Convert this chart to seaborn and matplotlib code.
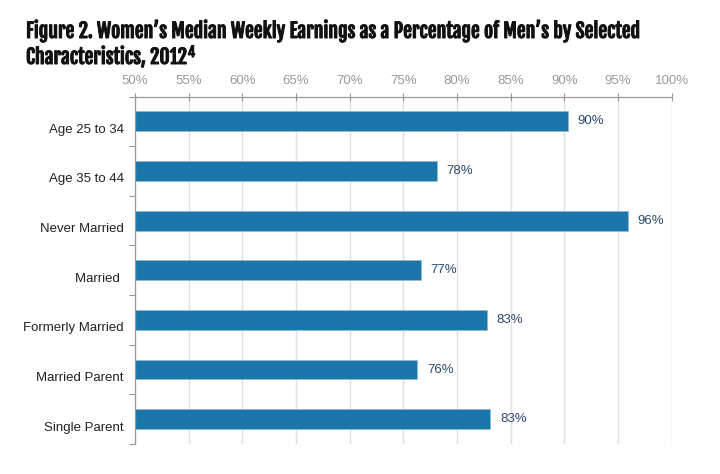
import matplotlib
matplotlib.use("Agg")
import matplotlib.pyplot as plt
import matplotlib.transforms as mtransforms
import matplotlib.patheffects as pe
import seaborn as sns
import pandas as pd

# Data
categories = ["Age 25 to 34", "Age 35 to 44", "Never Married", "Married ",
              "Formerly Married", "Married Parent", "Single Parent"]
values = [90.3, 78.1, 95.9, 76.6, 82.8, 76.3, 83.1]
value_labels = ["90%", "78%", "96%", "77%", "83%", "76%", "83%"]
x_ticks = [50, 55, 60, 65, 70, 75, 80, 85, 90, 95, 100]

df = pd.DataFrame({"group": categories, "pct": values})

sns.set_theme(style="white")
plt.rcParams["font.family"] = ["Liberation Sans", "DejaVu Sans"]

fig = plt.figure(figsize=(7.2, 4.74), dpi=100)
ax = fig.add_axes([0.1875, 0.0633, 0.7455, 0.733])

sns.barplot(data=df, x="pct", y="group", orient="h", color="#1b77aa",
            width=0.4, edgecolor="#8fb8d6", linewidth=0.6, saturation=1, ax=ax)

ax.set_xlim(50, 100)
ax.set_ylim(6.5, -0.5)
ax.set_xticks(x_ticks)
ax.set_xticklabels([f"{t}%" for t in x_ticks], color="#999999", fontsize=9.5)
ax.xaxis.tick_top()
ax.tick_params(axis="x", top=True, bottom=False, direction="inout", length=6,
               color="#9a9a9a", width=0.8, pad=4)
ax.set_xlabel("")
ax.set_ylabel("")

# y ticks at category boundaries, labels in between
ax.set_yticks(range(len(categories)))
ax.set_yticklabels(categories, fontsize=9.5, color="#222222")
ax.tick_params(axis="y", which="major", left=False, length=0, pad=8)
ax.set_yticks([i + 0.5 for i in range(-1, len(categories))], minor=True)
ax.tick_params(axis="y", which="minor", left=True, length=4, color="#9a9a9a", width=0.8)
shift = mtransforms.ScaledTranslation(0, -5 / 72, fig.dpi_scale_trans)
for lab in ax.get_yticklabels():
    lab.set_transform(lab.get_transform() + shift)

ax.grid(axis="x", color="#e0e0e0", linewidth=1)
ax.set_axisbelow(True)
for side in ["right", "bottom"]:
    ax.spines[side].set_visible(False)
for side in ["top", "left"]:
    ax.spines[side].set_color("#9a9a9a")
    ax.spines[side].set_linewidth(0.9)

for i, (v, lab) in enumerate(zip(values, value_labels)):
    ax.annotate(lab, (v, i), xytext=(7, 0), textcoords="offset points",
                va="center", ha="left", fontsize=9.5, color="#2c4a6e")

# heavy condensed title, thickened a little with a stroke
bold = [pe.withStroke(linewidth=0.7, foreground="#111111")]
title_font = dict(family=["Fjalla One", "DejaVu Sans"], fontsize=14.2, color="#111111",
                  path_effects=bold)
fig.text(26 / 720, 1 - 38 / 474,
         "Figure 2. Women’s Median Weekly Earnings as a Percentage of Men’s by Selected",
         ha="left", va="baseline", **title_font)
t2 = fig.text(26 / 720, 1 - 64 / 474, "Characteristics, 2012", ha="left", va="baseline",
              **title_font)

fig.canvas.draw()
bb = t2.get_window_extent()
fig.text((bb.x1 + 1) / 720, 1 - 57 / 474, "4", ha="left", va="baseline",
         family=title_font["family"], fontsize=10, color="#111111", path_effects=bold)

fig.savefig("out.png", dpi=100)
